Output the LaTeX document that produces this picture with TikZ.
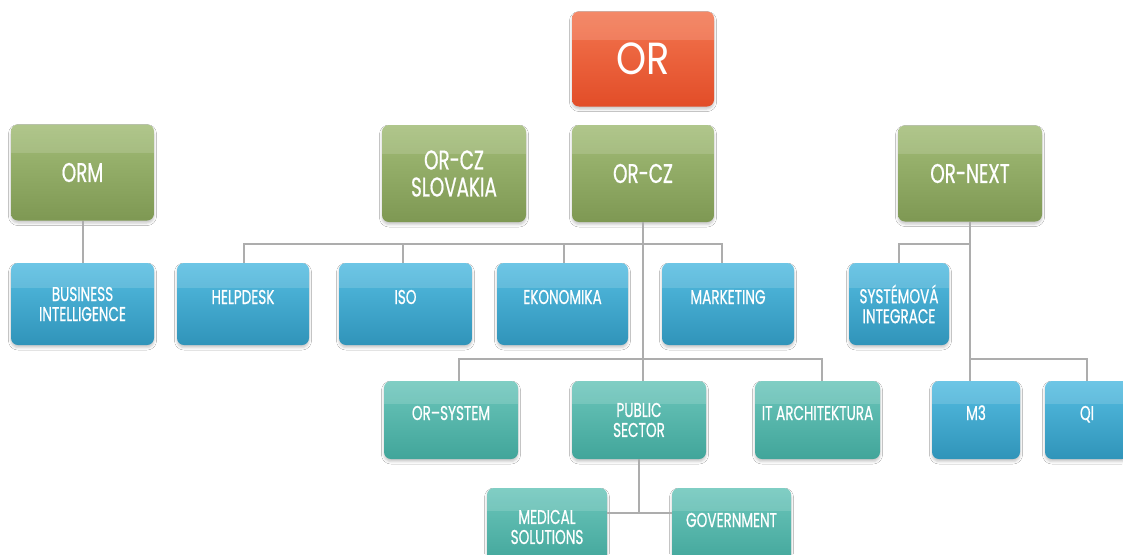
\documentclass[tikz,border=0pt]{standalone}
\usepackage{fontspec}
\setmainfont{Poppins}[FakeStretch=0.68, FakeBold=0.6]
\newfontfamily\orfont{Poppins}[FakeStretch=0.85]
\usetikzlibrary{shadows.blur,calc}
\definecolor{linegray}{HTML}{ADADAD}
\definecolor{orTop}{HTML}{F37650}
\definecolor{orBot}{HTML}{E24D28}
\definecolor{grTop}{HTML}{A3BD78}
\definecolor{grBot}{HTML}{7E9853}
\definecolor{blTop}{HTML}{55BDE2}
\definecolor{blBot}{HTML}{3094B9}
\definecolor{tlTop}{HTML}{6CC6BB}
\definecolor{tlBot}{HTML}{41A59A}
\begin{document}
\begin{tikzpicture}[x=1pt,y=-1pt,
  box/.style={rounded corners=7pt, text=white, align=center, inner sep=0pt,
    blur shadow={shadow xshift=0pt, shadow yshift=-2.5pt, shadow blur radius=2.5pt, shadow opacity=22},
    path picture={\fill[white,opacity=0.14,sharp corners] (path picture bounding box.north west) rectangle ($(path picture bounding box.north east)!0.3!(path picture bounding box.south east)$);}},
  orbox/.style={box, top color=orTop, bottom color=orBot, font=\orfont\fontsize{45}{45}\selectfont},
  grbox/.style={box, top color=grTop, bottom color=grBot, minimum height=97pt, font=\fontsize{27}{27}\selectfont},
  blbox/.style={box, top color=blTop, bottom color=blBot, minimum height=82pt, font=\fontsize{20}{20}\selectfont},
  tlbox/.style={box, top color=tlTop, bottom color=tlBot, minimum height=78pt, font=\fontsize{20}{20}\selectfont},
  hi/.style={text height=12pt, text depth=12pt},
  conn/.style={draw=linegray, line width=2pt}
]
\useasboundingbox (0,0) rectangle (1123,554);
\fill[white] (0,0) rectangle (1123,554);
\clip (0,0) rectangle (1123,554);
\coordinate (bus1) at (0,244);
\coordinate (bus2) at (0,359);
\coordinate (bus3) at (0,513);

\node[orbox, minimum width=142pt, minimum height=95pt] (or) at (643,59) {OR};
\node[grbox, minimum width=143pt, minimum height=96pt] (orm) at (82.5,172.5) {ORM};
\node[grbox, minimum width=144pt] (orsk) at (454,173.5) {OR-CZ\\SLOVAKIA};
\node[grbox, minimum width=142pt] (orcz) at (643,173.5) {OR-CZ};
\node[grbox, minimum width=144pt, minimum height=96pt] (ornext) at (970,173.5) {OR-NEXT};

\node[blbox, minimum width=143pt] (bi) at (82.5,304) {BUSINESS\\INTELLIGENCE};
\node[blbox, hi, minimum width=132pt] (help) at (243,304) {HELPDESK};
\node[blbox, hi, minimum width=133pt] (iso) at (405.5,304) {ISO};
\node[blbox, hi, minimum width=131pt] (eko) at (562.5,304) {EKONOMIKA};
\node[blbox, hi, minimum width=132pt] (mkt) at (728,304) {MARKETING};
\node[blbox, minimum width=100pt] (syst) at (899,304) {SYSTÉMOVÁ\\INTEGRACE};

\node[tlbox, hi, minimum width=134pt] (orsys) at (451,420) {OR--SYSTEM};
\node[tlbox, minimum width=134pt] (pub) at (639,420) {PUBLIC\\SECTOR};
\node[tlbox, hi, minimum width=125pt] (itar) at (817.5,420) {IT ARCHITEKTURA};
\node[blbox, hi, minimum width=88pt, minimum height=78pt] (m3) at (976,420) {M3};
\node[blbox, hi, minimum width=84pt, minimum height=78pt] (qi) at (1087,420) {QI};

\node[tlbox, minimum width=120pt] (med) at (547,527) {MEDICAL\\SOLUTIONS};
\node[tlbox, hi, minimum width=119pt] (gov) at (731.5,527) {GOVERNMENT};

% connectors
\draw[conn] (orm.south) -- (bi.north);
\draw[conn] (orcz.south) -- (orcz.south |- pub.north);
\draw[conn] ([xshift=1pt]help.north) -- ([xshift=1pt]help.north |- bus1) -- ([xshift=-6pt]mkt.north |- bus1) -- ([xshift=-6pt]mkt.north);
\draw[conn] ([xshift=-2.5pt]iso.north) -- ([xshift=-2.5pt]iso.north |- bus1);
\draw[conn] ([xshift=1.5pt]eko.north) -- ([xshift=1.5pt]eko.north |- bus1);
\draw[conn] ([xshift=8pt]orsys.north) -- ([xshift=8pt]orsys.north |- bus2) -- ([xshift=4.5pt]itar.north |- bus2) -- ([xshift=4.5pt]itar.north);
\draw[conn] (pub.south) -- (pub.south |- bus3);
\draw[conn] (med.east |- bus3) -- (gov.west |- bus3);
\draw[conn] (ornext.south) -- (ornext.south |- m3.north);
\draw[conn] (syst.north) -- (syst.north |- bus1) -- (ornext.south |- bus1);
\draw[conn] (ornext.south |- bus2) -- (qi.north |- bus2) -- (qi.north);
\end{tikzpicture}
\end{document}
